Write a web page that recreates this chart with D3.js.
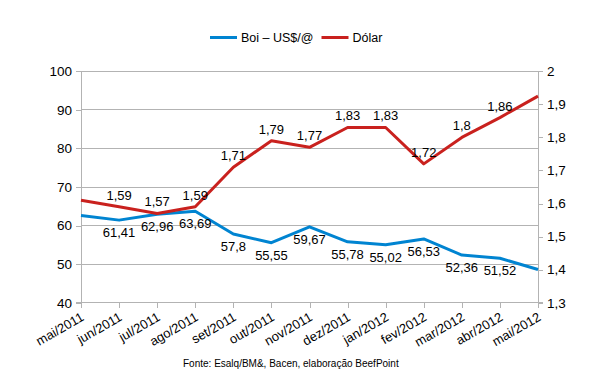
<!DOCTYPE html>
<html><head><meta charset="utf-8">
<script src="https://cdn.jsdelivr.net/npm/d3@7"></script>
<style>body{margin:0;background:#fff}svg{display:block}text{font-family:"Liberation Sans",Arial,sans-serif;fill:#000}</style>
</head><body><svg id="c" width="592" height="378"></svg>
<script>
const categories=["mai/2011","jun/2011","jul/2011","ago/2011","set/2011","out/2011","nov/2011","dez/2011","jan/2012","fev/2012","mar/2012","abr/2012","mai/2012"];
const boi=[62.6,61.41,62.96,63.69,57.8,55.55,59.67,55.78,55.02,56.53,52.36,51.52,48.6];
const boiLabels=[null,"61,41","62,96","63,69","57,8","55,55","59,67","55,78","55,02","56,53","52,36","51,52",null];
const dolar=[1.61,1.59,1.57,1.59,1.71,1.79,1.77,1.83,1.83,1.72,1.8,1.86,1.925];
const dolarLabels=[null,"1,59","1,57","1,59","1,71","1,79","1,77","1,83","1,83","1,72","1,8","1,86",null];
const leftTicks=[40,50,60,70,80,90,100];
const rightTicks=[1.3,1.4,1.5,1.6,1.7,1.8,1.9,2];
const seriesNames=["Boi – US$/@","Dólar"];
const colors=["#0084d1","#c9211e"];
const source="Fonte: Esalq/BM&, Bacen, elaboração BeefPoint";

const svg=d3.select("#c");
const L=81,R=538,T=71.3,B=302.7;
const x=d3.scalePoint().domain(categories).range([L,R]);
const yL=d3.scaleLinear().domain([40,100]).range([B,T]);
const yR=d3.scaleLinear().domain([1.3,2]).range([B,T]);
const grid="#b3b3b3";
const FF="Liberation Sans, Arial, sans-serif";

// gridlines
svg.append("g").selectAll("line").data(leftTicks).join("line")
  .attr("x1",L).attr("x2",R).attr("y1",d=>yL(d)).attr("y2",d=>yL(d))
  .attr("stroke",grid).attr("stroke-width",1).attr("shape-rendering","crispEdges");

// left axis
const gl=svg.append("g").attr("transform",`translate(${L},0)`)
  .call(d3.axisLeft(yL).tickValues(leftTicks).tickSize(5).tickPadding(4).tickFormat(d=>d));
gl.selectAll("path,line").attr("stroke",grid).attr("shape-rendering","crispEdges");
gl.select(".domain").attr("d",`M-5,${T}H0V${B}H-5`);
gl.selectAll("text").attr("font-size","13.5px").attr("font-family",FF).attr("fill","#000");

// right axis
const gr=svg.append("g").attr("transform",`translate(${R},0)`)
  .call(d3.axisRight(yR).tickValues(rightTicks).tickSize(5).tickPadding(4).tickFormat(d=>d3.format("~g")(d).replace(".",",")));
gr.selectAll("path,line").attr("stroke",grid).attr("shape-rendering","crispEdges");
gr.select(".domain").attr("d",`M5,${T}H0V${B}H5`);
gr.selectAll("text").attr("font-size","13.5px").attr("font-family",FF).attr("fill","#000");

// bottom axis
const gb=svg.append("g").attr("transform",`translate(0,${B})`)
  .call(d3.axisBottom(x).tickSize(5).tickFormat(d=>d));
gb.selectAll("path,line").attr("stroke",grid).attr("shape-rendering","crispEdges");
gb.select(".domain").attr("d",`M${L},0H${R}`);
gb.selectAll("text").attr("font-size","13px").attr("font-family",FF).attr("fill","#000")
  .attr("text-anchor","end").attr("dy","0.35em").attr("y",0)
  .attr("transform","translate(1,13) rotate(-30)");

// lines
const lineL=d3.line().x((d,i)=>x(categories[i])).y(d=>yL(d));
const lineR=d3.line().x((d,i)=>x(categories[i])).y(d=>yR(d));
svg.append("path").datum(boi).attr("d",lineL).attr("fill","none").attr("stroke",colors[0]).attr("stroke-width",3).attr("stroke-linejoin","round");
svg.append("path").datum(dolar).attr("d",lineR).attr("fill","none").attr("stroke",colors[1]).attr("stroke-width",3).attr("stroke-linejoin","round");

// data labels
const boiPts=boi.map((v,i)=>({v,i,t:boiLabels[i]})).filter(o=>o.t!==null);
const dolPts=dolar.map((v,i)=>({v,i,t:dolarLabels[i]})).filter(o=>o.t!==null);
svg.append("g").selectAll("text").data(boiPts).join("text")
  .attr("x",o=>x(categories[o.i])).attr("y",o=>yL(o.v)+17)
  .attr("text-anchor","middle").attr("font-size","13px").text(o=>o.t);
svg.append("g").selectAll("text").data(dolPts).join("text")
  .attr("x",o=>x(categories[o.i])).attr("y",o=>yR(o.v)-7)
  .attr("text-anchor","middle").attr("font-size","13px").text(o=>o.t);

// legend
const lg=svg.append("g");
const items=[{x:210,c:colors[0],t:seriesNames[0]},{x:321.5,c:colors[1],t:seriesNames[1]}];
items.forEach(it=>{
  lg.append("line").attr("x1",it.x).attr("x2",it.x+27).attr("y1",37.5).attr("y2",37.5).attr("stroke",it.c).attr("stroke-width",3);
  lg.append("text").attr("x",it.x+31).attr("y",42).attr("font-size","12.5px").text(it.t);
});

// source
svg.append("text").attr("x",183).attr("y",367).attr("font-size","10px").text(source);
</script></body></html>
